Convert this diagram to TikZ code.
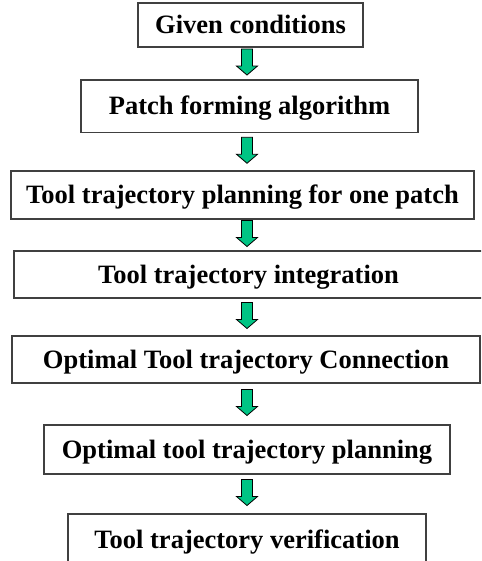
\documentclass[tikz,border=0pt]{standalone}
\usepackage{fontspec}
\setmainfont{Liberation Serif}
\usetikzlibrary{calc}
\definecolor{arrowgreen}{RGB}{0,196,132}
\newcommand{\flowarrow}[2]{%
	\coordinate (m) at ($(axis |- #1.south)!0.5!(axis |- #2.north)+(0,-1.5)$);
	\draw[arrowbody] ($(m)+(-5.5,-13)$) -- ($(m)+(5.5,-13)$) -- ($(m)+(5.5,4)$)
		-- ($(m)+(10.5,4)$) -- ($(m)+(0,13)$) -- ($(m)+(-10.5,4)$)
		-- ($(m)+(-5.5,4)$) -- cycle;}
\begin{document}
\begin{tikzpicture}
		[x=1pt,y=-1pt,
		stepbox/.style={rectangle,draw=black!75,fill=white,line width=1.2pt,
inner sep=0pt,text height=22pt,text depth=5pt,
font=\fontsize{26.5}{30}\selectfont\bfseries},
		arrowbody/.style={draw=black,fill=arrowgreen,line width=0.8pt,line join=miter}]
		\useasboundingbox (0,0) rectangle (481,561);
		\clip (0,0) rectangle (481,561);
		\coordinate (axis) at (247,0);
		\node at (250.5,25) (b1) [stepbox,minimum width=225pt,minimum height=44pt] {Given conditions};
		\node at (249.5,106.3) (b2) [stepbox,minimum width=337pt,minimum height=52.5pt] {Patch forming algorithm};
		\node at (242.5,195) (b3) [stepbox,minimum width=463pt,minimum height=48pt] {Tool trajectory planning for one patch};
		\node at (248.5,274.5) (b4) [stepbox,minimum width=469pt,minimum height=47pt] {Tool trajectory integration};
		\node at (246,359.5) (b5) [stepbox,minimum width=468pt,minimum height=47pt] {Optimal Tool trajectory Connection};
		\node at (247,449.5) (b6) [stepbox,minimum width=406pt,minimum height=49pt] {Optimal tool trajectory planning};
		\node at (247,542) (b7) [stepbox,minimum width=358pt,minimum height=56pt,text depth=10pt] {Tool trajectory verification};
		\flowarrow{b1}{b2}
		\flowarrow{b2}{b3}
		\flowarrow{b3}{b4}
		\flowarrow{b4}{b5}
		\flowarrow{b5}{b6}
		\flowarrow{b6}{b7}
	\end{tikzpicture}
\end{document}
